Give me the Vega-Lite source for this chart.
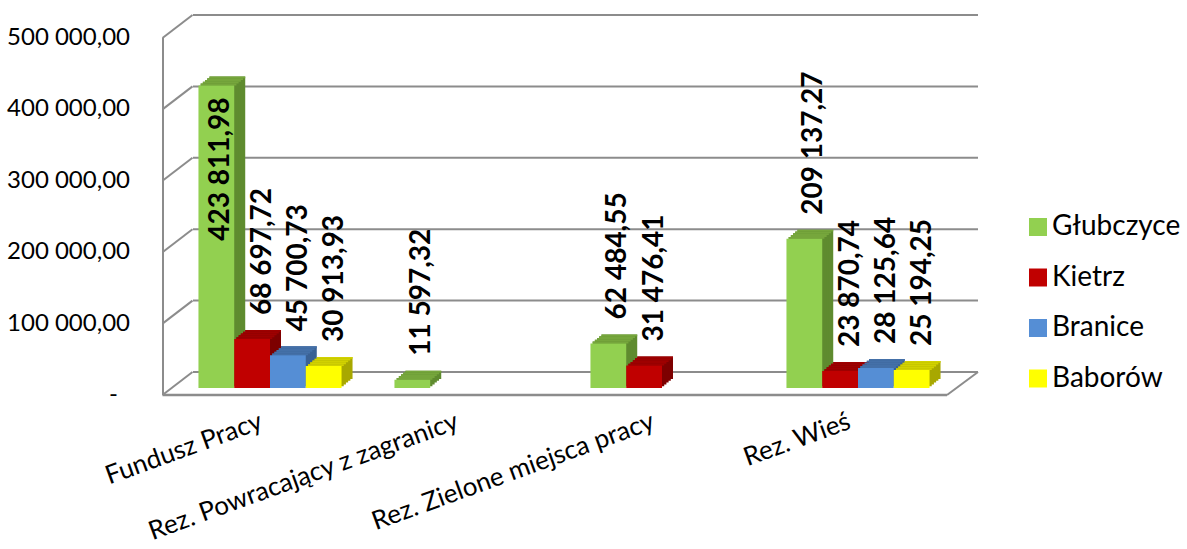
{
 "$schema": "https://vega.github.io/schema/vega-lite/v6.json",
 "width": 784,
 "height": 357,
 "autosize": {"type": "none"},
 "padding": {"left": 172, "top": 31, "right": 231, "bottom": 161},
 "background": "white",
 "config": {
  "view": {"stroke": null},
  "font": "Lato",
  "axis": {"grid": false, "ticks": false, "domain": false, "labelFont": "Lato"},
  "locale": {"number": {"decimal": ",", "thousands": "\u00a0", "grouping": [3], "currency": ["", ""]}}
 },
 "datasets": {
  "bars": [
   {"category": "Fundusz Pracy", "series": "Głubczyce", "value": 423811.98},
   {"category": "Fundusz Pracy", "series": "Kietrz", "value": 68697.72},
   {"category": "Fundusz Pracy", "series": "Branice", "value": 45700.73},
   {"category": "Fundusz Pracy", "series": "Baborów", "value": 30913.93},
   {"category": "Rez. Powracający z zagranicy", "series": "Głubczyce", "value": 11597.32},
   {"category": "Rez. Zielone miejsca pracy", "series": "Głubczyce", "value": 62484.55},
   {"category": "Rez. Zielone miejsca pracy", "series": "Kietrz", "value": 31476.41},
   {"category": "Rez. Wieś", "series": "Głubczyce", "value": 209137.27},
   {"category": "Rez. Wieś", "series": "Kietrz", "value": 23870.74},
   {"category": "Rez. Wieś", "series": "Branice", "value": 28125.64},
   {"category": "Rez. Wieś", "series": "Baborów", "value": 25194.25}
  ],
  "grid": [{"v": 0}, {"v": 100000}, {"v": 200000}, {"v": 300000}, {"v": 400000}, {"v": 500000}],
  "base": [{"v": 0}]
 },
 "layer": [
  {
   "data": {"name": "grid"},
   "mark": {"type": "rule", "color": "#8c8c8c", "strokeWidth": 2, "xOffset": -77, "x2Offset": 120, "yOffset": -16},
   "encoding": {
    "x": {"datum": "Fundusz Pracy", "type": "nominal"},
    "x2": {"datum": "Rez. Wieś"},
    "y": {"field": "v", "type": "quantitative", "scale": {"domain": [0, 500000], "nice": false}}
   }
  },
  {
   "data": {"name": "grid"},
   "mark": {"type": "rule", "color": "#8c8c8c", "strokeWidth": 2, "xOffset": -107.5, "x2Offset": -77.5, "yOffset": 7, "y2Offset": -16},
   "encoding": {
    "x": {"datum": "Fundusz Pracy", "type": "nominal"},
    "x2": {"datum": "Fundusz Pracy"},
    "y": {"field": "v", "type": "quantitative"},
    "y2": {"field": "v"}
   }
  },
  {
   "data": {"name": "base"},
   "mark": {"type": "rule", "color": "#8c8c8c", "strokeWidth": 2, "xOffset": 89, "x2Offset": 120, "yOffset": 7, "y2Offset": -16},
   "encoding": {
    "x": {"datum": "Rez. Wieś", "type": "nominal"},
    "x2": {"datum": "Rez. Wieś"},
    "y": {"field": "v", "type": "quantitative"},
    "y2": {"field": "v"}
   }
  },
  {
   "data": {"name": "base"},
   "mark": {"type": "rule", "color": "#8c8c8c", "strokeWidth": 2.5, "xOffset": -107.5, "x2Offset": 89, "yOffset": 7},
   "encoding": {
    "x": {"datum": "Fundusz Pracy", "type": "nominal"},
    "x2": {"datum": "Rez. Wieś"},
    "y": {"field": "v", "type": "quantitative"}
   }
  },
  {
   "data": {"name": "bars"},
   "mark": {"type": "bar", "yOffset": -9, "y2Offset": -9},
   "encoding": {
    "x": {"field": "category", "type": "nominal", "sort": null, "scale": {"domain": ["Fundusz Pracy", "Rez. Powracający z zagranicy", "Rez. Zielone miejsca pracy", "Rez. Wieś"], "paddingInner": 0.27, "paddingOuter": 0.135}},
    "xOffset": {"field": "series", "type": "nominal", "scale": {"domain": ["Głubczyce", "Kietrz", "Branice", "Baborów"], "range": [11, 154.08], "paddingInner": 0, "paddingOuter": 0}},
    "y": {"field": "value", "type": "quantitative"},
    "color": {"field": "series", "type": "nominal", "scale": {"domain": ["Głubczyce", "Kietrz", "Branice", "Baborów"], "range": ["#5f8b2f", "#7d0000", "#3a6194", "#a8a800"]}, "legend": null}
   }
  },
  {
   "data": {"name": "bars"},
   "mark": {"type": "bar", "yOffset": -7.2, "y2Offset": -7.2},
   "encoding": {
    "x": {"field": "category", "type": "nominal", "sort": null},
    "xOffset": {"field": "series", "type": "nominal", "scale": {"domain": ["Głubczyce", "Kietrz", "Branice", "Baborów"], "range": [8.8, 151.88], "paddingInner": 0, "paddingOuter": 0}},
    "y": {"field": "value", "type": "quantitative"},
    "color": {"field": "series", "type": "nominal", "scale": {"domain": ["Głubczyce", "Kietrz", "Branice", "Baborów"], "range": ["#5f8b2f", "#7d0000", "#3a6194", "#a8a800"]}, "legend": null}
   }
  },
  {
   "data": {"name": "bars"},
   "mark": {"type": "bar", "yOffset": -5.4, "y2Offset": -5.4},
   "encoding": {
    "x": {"field": "category", "type": "nominal", "sort": null},
    "xOffset": {"field": "series", "type": "nominal", "scale": {"domain": ["Głubczyce", "Kietrz", "Branice", "Baborów"], "range": [6.6, 149.68], "paddingInner": 0, "paddingOuter": 0}},
    "y": {"field": "value", "type": "quantitative"},
    "color": {"field": "series", "type": "nominal", "scale": {"domain": ["Głubczyce", "Kietrz", "Branice", "Baborów"], "range": ["#5f8b2f", "#7d0000", "#3a6194", "#a8a800"]}, "legend": null}
   }
  },
  {
   "data": {"name": "bars"},
   "mark": {"type": "bar", "yOffset": -3.6, "y2Offset": -3.6},
   "encoding": {
    "x": {"field": "category", "type": "nominal", "sort": null},
    "xOffset": {"field": "series", "type": "nominal", "scale": {"domain": ["Głubczyce", "Kietrz", "Branice", "Baborów"], "range": [4.4, 147.48], "paddingInner": 0, "paddingOuter": 0}},
    "y": {"field": "value", "type": "quantitative"},
    "color": {"field": "series", "type": "nominal", "scale": {"domain": ["Głubczyce", "Kietrz", "Branice", "Baborów"], "range": ["#5f8b2f", "#7d0000", "#3a6194", "#a8a800"]}, "legend": null}
   }
  },
  {
   "data": {"name": "bars"},
   "mark": {"type": "bar", "yOffset": -1.8, "y2Offset": -1.8},
   "encoding": {
    "x": {"field": "category", "type": "nominal", "sort": null},
    "xOffset": {"field": "series", "type": "nominal", "scale": {"domain": ["Głubczyce", "Kietrz", "Branice", "Baborów"], "range": [2.2, 145.28], "paddingInner": 0, "paddingOuter": 0}},
    "y": {"field": "value", "type": "quantitative"},
    "color": {"field": "series", "type": "nominal", "scale": {"domain": ["Głubczyce", "Kietrz", "Branice", "Baborów"], "range": ["#5f8b2f", "#7d0000", "#3a6194", "#a8a800"]}, "legend": null}
   }
  },
  {
   "data": {"name": "bars"},
   "mark": {"type": "bar", "yOffset": -9, "y2Offset": -7.2},
   "encoding": {
    "x": {"field": "category", "type": "nominal", "sort": null},
    "xOffset": {"field": "series", "type": "nominal", "scale": {"domain": ["Głubczyce", "Kietrz", "Branice", "Baborów"], "range": [11, 154.08], "paddingInner": 0, "paddingOuter": 0}},
    "y": {"field": "value", "type": "quantitative"},
    "y2": {"field": "value"},
    "color": {"field": "series", "type": "nominal", "scale": {"domain": ["Głubczyce", "Kietrz", "Branice", "Baborów"], "range": ["#76a63c", "#9e0000", "#4470a8", "#d2d200"]}, "legend": null}
   }
  },
  {
   "data": {"name": "bars"},
   "mark": {"type": "bar", "yOffset": -7.2, "y2Offset": -5.4},
   "encoding": {
    "x": {"field": "category", "type": "nominal", "sort": null},
    "xOffset": {"field": "series", "type": "nominal", "scale": {"domain": ["Głubczyce", "Kietrz", "Branice", "Baborów"], "range": [8.8, 151.88], "paddingInner": 0, "paddingOuter": 0}},
    "y": {"field": "value", "type": "quantitative"},
    "y2": {"field": "value"},
    "color": {"field": "series", "type": "nominal", "scale": {"domain": ["Głubczyce", "Kietrz", "Branice", "Baborów"], "range": ["#76a63c", "#9e0000", "#4470a8", "#d2d200"]}, "legend": null}
   }
  },
  {
   "data": {"name": "bars"},
   "mark": {"type": "bar", "yOffset": -5.4, "y2Offset": -3.6},
   "encoding": {
    "x": {"field": "category", "type": "nominal", "sort": null},
    "xOffset": {"field": "series", "type": "nominal", "scale": {"domain": ["Głubczyce", "Kietrz", "Branice", "Baborów"], "range": [6.6, 149.68], "paddingInner": 0, "paddingOuter": 0}},
    "y": {"field": "value", "type": "quantitative"},
    "y2": {"field": "value"},
    "color": {"field": "series", "type": "nominal", "scale": {"domain": ["Głubczyce", "Kietrz", "Branice", "Baborów"], "range": ["#76a63c", "#9e0000", "#4470a8", "#d2d200"]}, "legend": null}
   }
  },
  {
   "data": {"name": "bars"},
   "mark": {"type": "bar", "yOffset": -3.6, "y2Offset": -1.8},
   "encoding": {
    "x": {"field": "category", "type": "nominal", "sort": null},
    "xOffset": {"field": "series", "type": "nominal", "scale": {"domain": ["Głubczyce", "Kietrz", "Branice", "Baborów"], "range": [4.4, 147.48], "paddingInner": 0, "paddingOuter": 0}},
    "y": {"field": "value", "type": "quantitative"},
    "y2": {"field": "value"},
    "color": {"field": "series", "type": "nominal", "scale": {"domain": ["Głubczyce", "Kietrz", "Branice", "Baborów"], "range": ["#76a63c", "#9e0000", "#4470a8", "#d2d200"]}, "legend": null}
   }
  },
  {
   "data": {"name": "bars"},
   "mark": {"type": "bar", "yOffset": -1.8, "y2Offset": 0},
   "encoding": {
    "x": {"field": "category", "type": "nominal", "sort": null},
    "xOffset": {"field": "series", "type": "nominal", "scale": {"domain": ["Głubczyce", "Kietrz", "Branice", "Baborów"], "range": [2.2, 145.28], "paddingInner": 0, "paddingOuter": 0}},
    "y": {"field": "value", "type": "quantitative"},
    "y2": {"field": "value"},
    "color": {"field": "series", "type": "nominal", "scale": {"domain": ["Głubczyce", "Kietrz", "Branice", "Baborów"], "range": ["#76a63c", "#9e0000", "#4470a8", "#d2d200"]}, "legend": null}
   }
  },
  {
   "data": {"name": "bars"},
   "mark": {"type": "bar"},
   "encoding": {
    "x": {"field": "category", "type": "nominal", "sort": null, "axis": {"title": null, "domain": false, "ticks": false, "grid": false, "labelAngle": -20, "labelAlign": "right", "labelBaseline": "top", "labelFont": "Lato", "labelFontSize": 26, "labelColor": "black", "labelPadding": 20, "labelOffset": -13, "labelLimit": 0}},
    "xOffset": {"field": "series", "type": "nominal", "scale": {"domain": ["Głubczyce", "Kietrz", "Branice", "Baborów"], "range": [0, 143.08], "paddingInner": 0, "paddingOuter": 0}},
    "y": {"field": "value", "type": "quantitative", "axis": {"title": null, "values": [0, 100000, 200000, 300000, 400000, 500000], "format": ",.2f", "labelExpr": "datum.value == 0 ? '-' : datum.label", "grid": false, "ticks": false, "domain": true, "domainColor": "#8c8c8c", "domainWidth": 2, "offset": 16, "translate": 7, "labelPadding": {"condition": {"test": "datum.value == 0", "value": 45}, "value": 33}, "labelFont": "Lato", "labelFontSize": 24, "labelColor": "black"}},
    "color": {"field": "series", "type": "nominal", "scale": {"domain": ["Głubczyce", "Kietrz", "Branice", "Baborów"], "range": ["#92d050", "#c00000", "#558ed5", "#ffff00"]}, "legend": {"title": null, "orient": "none", "legendX": 852, "legendY": 182, "symbolType": "square", "symbolSize": 324, "symbolStrokeWidth": 0, "symbolOpacity": 1, "labelFont": "Lato", "labelFontSize": 28, "labelColor": "black", "labelOffset": 0, "rowPadding": 22.5, "padding": 0}}
   }
  },
  {
   "data": {"name": "bars"},
   "transform": [{"filter": "datum.value < 300000"}],
   "mark": {"type": "text", "angle": 270, "align": "left", "baseline": "middle", "font": "Lato", "fontSize": 28, "fontWeight": "bold", "color": "black", "yOffset": -24},
   "encoding": {
    "x": {"field": "category", "type": "nominal", "sort": null},
    "xOffset": {"field": "series", "type": "nominal", "scale": {"domain": ["Głubczyce", "Kietrz", "Branice", "Baborów"], "range": [27.9, 136.8], "paddingOuter": 0}},
    "y": {"field": "value", "type": "quantitative"},
    "text": {"field": "value", "type": "quantitative", "format": ",.2f"}
   }
  },
  {
   "data": {"name": "bars"},
   "transform": [{"filter": "datum.value >= 300000"}],
   "mark": {"type": "text", "angle": 270, "align": "right", "baseline": "middle", "font": "Lato", "fontSize": 28, "fontWeight": "bold", "color": "black", "yOffset": 12},
   "encoding": {
    "x": {"field": "category", "type": "nominal", "sort": null},
    "xOffset": {"field": "series", "type": "nominal", "scale": {"domain": ["Głubczyce", "Kietrz", "Branice", "Baborów"], "range": [22.9, 131.8], "paddingOuter": 0}},
    "y": {"field": "value", "type": "quantitative"},
    "text": {"field": "value", "type": "quantitative", "format": ",.2f"}
   }
  }
 ],
 "resolve": {"scale": {"color": "independent", "xOffset": "independent"}}
}
